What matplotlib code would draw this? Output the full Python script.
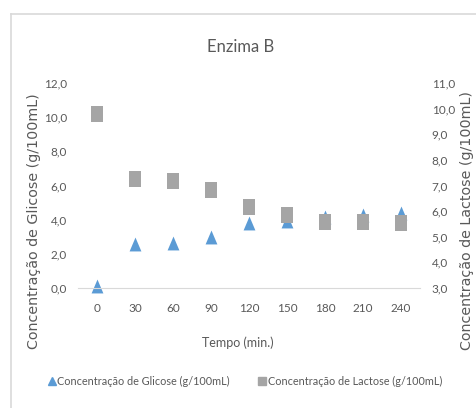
import matplotlib
matplotlib.use('Agg')
from matplotlib import pyplot as plt
from matplotlib.lines import Line2D
import numpy as np

tempo = ['0', '30', '60', '90', '120', '150', '180', '210', '240']
glicose = [0.1, 2.6, 2.65, 3.0, 3.8, 3.9, 4.15, 4.3, 4.4]
lactose = [9.8, 7.25, 7.17, 6.82, 6.16, 5.84, 5.57, 5.56, 5.53]

azul = '#5B9BD5'
cinza = '#A5A5A5'
texto = '#595959'
fonte = ['Lato', 'DejaVu Sans']

W, H = 477, 408
fig = plt.figure(figsize=(W / 100, H / 100), dpi=100)

# chart frame (only top and left edges visible in the crop)
fig.add_artist(Line2D([11 / W, 1], [1 - 14 / H, 1 - 14 / H], color='#D9D9D9', lw=1.2,
                      transform=fig.transFigure))
fig.add_artist(Line2D([11 / W, 11 / W], [0, 1 - 14 / H], color='#D9D9D9', lw=1.2,
                      transform=fig.transFigure))

ax = fig.add_axes([78 / W, 1 - 288 / H, (420 - 78) / W, (288 - 83) / H])
ax2 = ax.twinx()

quad = [(-0.8, -1), (0.8, -1), (0.8, 1), (-0.8, 1), (-0.8, -1)]
tri = [(-0.85, -1), (0.85, -1), (0, 1), (-0.85, -1)]

x = np.arange(len(tempo))
ax2.scatter(x, lactose, marker=quad, s=117, color=cinza, linewidths=0, zorder=3, clip_on=False)
ax.scatter(x, glicose, marker=tri, s=100, color=azul, linewidths=0, zorder=2, clip_on=False)
ax.set_zorder(ax2.get_zorder() - 1)
ax.patch.set_visible(False)
ax2.patch.set_visible(False)

ax.set_xlim(-0.5, len(tempo) - 0.5)
ax.set_ylim(0, 12)
ax2.set_ylim(3, 11)
ax.set_xticks(x)
ax.set_xticklabels(tempo)
ax.set_yticks(np.arange(0, 12.1, 2))
ax.set_yticklabels([('%.1f' % v).replace('.', ',') for v in np.arange(0, 12.1, 2)])
ax2.set_yticks(np.arange(3, 11.1, 1))
ax2.set_yticklabels([('%.1f' % v).replace('.', ',') for v in np.arange(3, 11.1, 1)])

for a in (ax, ax2):
    for s in a.spines.values():
        s.set_visible(False)
    a.tick_params(length=0, labelsize=8.5, colors=texto)
    for t in a.get_xticklabels() + a.get_yticklabels():
        t.set_family(fonte)
ax.spines['bottom'].set_visible(True)
ax.spines['bottom'].set_color('#D9D9D9')
ax.tick_params(axis='x', pad=11)
ax.tick_params(axis='y', pad=8)
ax2.tick_params(axis='y', pad=8.5)

fig.text(241 / W, 1 - 47 / H, 'Enzima B', ha='center', va='center', fontsize=12,
         color=texto, family=fonte)
fig.text(238 / W, 1 - 343 / H, 'Tempo (min.)', ha='center', va='center', fontsize=9,
         color=texto, family=fonte)
fig.text(34 / W, 1 - 221 / H, 'Concentração de Glicose (g/100mL)', ha='center', va='center',
         rotation=90, fontsize=10.3, color=texto)
fig.text(467 / W, 1 - 221 / H, 'Concentração de Lactose (g/100mL)', ha='center', va='center',
         rotation=90, fontsize=10.3, color=texto)

handles = [Line2D([], [], marker='^', ls='none', color=azul, markersize=6),
           Line2D([], [], marker='s', ls='none', color=cinza, markersize=6)]
leg = fig.legend(handles, ['Concentração de Glicose (g/100mL)', 'Concentração de Lactose (g/100mL)'],
                 loc='center', bbox_to_anchor=(244 / W, 1 - 381 / H), ncol=2, frameon=False,
                 handletextpad=0.0, columnspacing=2.5, handlelength=1.0,
                 prop={'family': fonte, 'size': 7.8})
for t in leg.get_texts():
    t.set_color(texto)

fig.savefig('out.png', dpi=100)
